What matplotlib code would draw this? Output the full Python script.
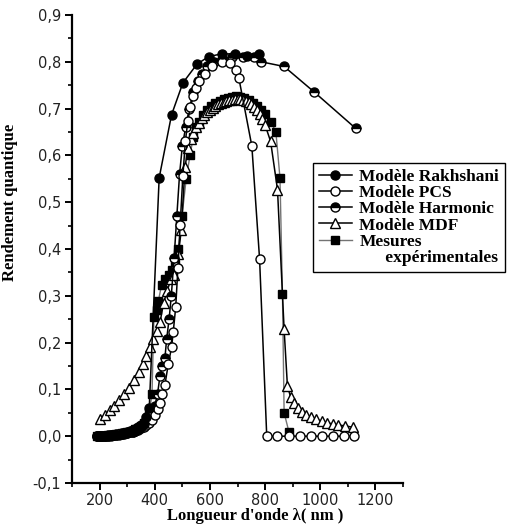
import matplotlib
matplotlib.use('Agg')
import matplotlib.pyplot as plt
from matplotlib.ticker import MultipleLocator, FuncFormatter
from matplotlib.lines import Line2D

# values
x_low = [190, 200, 210, 220, 230, 240, 250, 260, 270, 280,
         290, 300, 310, 320, 330, 340, 350, 360, 370, 380]

rak_x = x_low + [416, 461, 502, 553, 595, 642, 690, 735, 778]
rak_y = [0.0, 0.0, 0.0, 0.0, 0.001, 0.001, 0.002, 0.002, 0.003, 0.004,
         0.005, 0.006, 0.008, 0.010, 0.012, 0.015, 0.020, 0.027, 0.040, 0.060,
         0.552, 0.687, 0.755, 0.795, 0.811, 0.817, 0.817, 0.812, 0.817]

pcs_x = x_low + [390, 400, 410, 420, 427, 437, 449, 461, 467, 476, 484, 492,
                 502, 511, 520, 529, 540, 551, 562, 583, 607, 642, 674, 693,
                 705, 752, 780, 806, 845, 885, 925, 965, 1005, 1045, 1085, 1124]
pcs_y = [0.0, 0.0, 0.0, 0.001, 0.001, 0.002, 0.002, 0.003, 0.004, 0.005,
         0.006, 0.007, 0.008, 0.010, 0.012, 0.014, 0.017, 0.020, 0.024, 0.029,
         0.035, 0.045, 0.058, 0.072, 0.090, 0.110, 0.154, 0.190, 0.223, 0.276, 0.360, 0.451,
         0.557, 0.630, 0.674, 0.704, 0.726, 0.745, 0.760, 0.775, 0.790, 0.800, 0.797, 0.783,
         0.765, 0.620, 0.379, 0.0, 0.0, 0.0, 0.0, 0.0, 0.0, 0.0, 0.0, 0.0]

har_x = x_low + [390, 400, 410, 419, 428, 437, 443, 452, 460, 470, 480, 490,
                 500, 512, 525, 540, 555, 570, 590, 615, 645, 680, 720, 760,
                 786, 869, 979, 1128]
har_y = [0.0, 0.0, 0.001, 0.001, 0.002, 0.002, 0.003, 0.004, 0.005, 0.006,
         0.007, 0.009, 0.011, 0.013, 0.016, 0.019, 0.023, 0.028, 0.034, 0.042,
         0.052, 0.065, 0.090, 0.129, 0.150, 0.168, 0.207, 0.250, 0.300, 0.380, 0.470, 0.560,
         0.620, 0.660, 0.700, 0.735, 0.760, 0.775, 0.790, 0.800, 0.806, 0.810, 0.811, 0.810,
         0.800, 0.790, 0.735, 0.658]

mdf_x = [200, 218, 236, 254, 272, 290, 308, 326, 342, 356, 370, 383, 395, 407,
         419, 432, 445, 458, 470, 478, 486, 496, 510, 520,
         530, 540, 550, 560, 570, 580, 590, 600, 610, 620, 630, 640, 650, 660,
         670, 680, 690, 700, 710, 720, 730, 740, 750, 760, 770, 780, 790, 800,
         820, 845, 869, 881, 893, 905, 920, 935, 950, 965, 985, 1005, 1025,
         1045, 1065, 1090, 1120]
mdf_y = [0.037, 0.045, 0.055, 0.065, 0.077, 0.090, 0.104, 0.120, 0.137, 0.155,
         0.172, 0.190, 0.207, 0.225, 0.243, 0.285, 0.310, 0.335, 0.345, 0.370,
         0.390, 0.440, 0.576, 0.615,
         0.635, 0.648, 0.660, 0.670, 0.679, 0.686, 0.692, 0.697, 0.702, 0.706,
         0.709, 0.712, 0.714, 0.716, 0.718, 0.719, 0.720, 0.720, 0.720, 0.719,
         0.717, 0.714, 0.710, 0.704, 0.697, 0.688, 0.678, 0.665,
         0.630, 0.527, 0.228, 0.107, 0.083, 0.070, 0.060, 0.052, 0.046, 0.041,
         0.036, 0.032, 0.029, 0.026, 0.024, 0.022, 0.019]

mes_x = [190, 200, 210, 220, 230, 240, 250, 260, 270, 280, 290, 300, 310,
         320, 330, 340, 350, 360, 370, 380, 390, 397, 407, 413, 425, 437, 450,
         462, 474, 486, 499, 514, 528, 540, 550, 560, 575, 590, 605, 620, 635,
         650, 665, 680, 695, 710, 725, 740, 755, 770, 785, 800, 820, 839, 854,
         863, 869, 887]
mes_y = [0.0, 0.0, 0.001, 0.001, 0.002, 0.002, 0.003, 0.004, 0.005, 0.006,
         0.007, 0.008, 0.010, 0.012, 0.015, 0.018, 0.022, 0.028, 0.036, 0.050,
         0.090, 0.254, 0.270, 0.289, 0.324, 0.335, 0.345, 0.355, 0.367, 0.400,
         0.471, 0.550, 0.601, 0.640, 0.660, 0.672, 0.686, 0.697, 0.705, 0.711,
         0.716, 0.720, 0.723, 0.725, 0.726, 0.725, 0.722, 0.718, 0.712, 0.705,
         0.697, 0.688, 0.672, 0.651, 0.552, 0.303, 0.050, 0.008]

labels = ['Modèle Rakhshani', 'Modèle PCS', 'Modèle Harmonic', 'Modèle MDF',
          'Mesures']

fig = plt.figure(figsize=(5.18, 5.27), dpi=100)
ax = fig.add_axes([0.139, 0.0835, 0.639, 0.888])

ms = 6.5
ax.plot(mes_x, mes_y, color='0.45', lw=1.0, marker='s', ms=6, mfc='black',
        mec='black', label=labels[4], zorder=2)
ax.plot(mdf_x, mdf_y, color='black', lw=1.1, marker='^', ms=ms, mfc='white',
        mec='black', mew=1.0, label=labels[3], zorder=3)
ax.plot(har_x, har_y, color='black', lw=1.1, marker='o', ms=ms, fillstyle='top',
        mfc='black', mfcalt='white', mec='black', mew=1.0, label=labels[2], zorder=4)
ax.plot(pcs_x, pcs_y, color='black', lw=1.1, marker='o', ms=ms, mfc='white',
        mec='black', mew=1.0, label=labels[1], zorder=5)
ax.plot(rak_x, rak_y, color='black', lw=1.1, marker='o', ms=ms, mfc='black',
        mec='black', label=labels[0], zorder=6)

ax.set_xlim(100, 1300)
ax.set_ylim(-0.1, 0.9)
ax.xaxis.set_major_locator(MultipleLocator(200))
ax.xaxis.set_minor_locator(MultipleLocator(100))
ax.yaxis.set_major_locator(MultipleLocator(0.1))
ax.yaxis.set_minor_locator(MultipleLocator(0.05))
ax.xaxis.set_major_formatter(FuncFormatter(lambda v, p: '%d' % v if 150 < v < 1250 else ''))
ax.yaxis.set_major_formatter(FuncFormatter(lambda v, p: ('%.1f' % v).replace('.', ',')))

for s in ['top', 'right']:
    ax.spines[s].set_visible(False)
for s in ['left', 'bottom']:
    ax.spines[s].set_linewidth(1.6)
ax.tick_params(which='major', direction='out', length=5, width=1.4,
               labelsize=10.5, labelcolor='#222222', pad=3)
ax.tick_params(axis='x', which='major', pad=2)
ax.tick_params(which='minor', direction='out', length=3, width=1.2)
for t in ax.get_xticklabels() + ax.get_yticklabels():
    t.set_family('DejaVu Sans')

ax.set_xlabel("Longueur d'onde λ( nm )", family='Liberation Serif',
              fontweight='bold', fontsize=12)
ax.xaxis.set_label_coords(0.553, -0.054)
ax.set_ylabel('Rendement quantique', family='Liberation Serif',
              fontweight='bold', fontsize=12)
ax.yaxis.set_label_coords(-0.163, 0.6)

h, l = ax.get_legend_handles_labels()
order = [4, 3, 2, 1, 0]
handles = [h[i] for i in order] + [Line2D([], [], linestyle='none')]
leg_labels = [l[i] for i in order] + ['      expérimentales']
leg = fig.legend(handles, leg_labels, loc='upper left',
                 bbox_to_anchor=(0.604, 0.691), frameon=True, fancybox=False,
                 edgecolor='black', framealpha=1, handlelength=1.9,
                 handletextpad=0.43, labelspacing=0.0, borderpad=0.35,
                 borderaxespad=0,
                 prop={'family': 'Liberation Serif', 'weight': 'bold', 'size': 12.5})
leg.get_frame().set_linewidth(1.0)

fig.savefig('out.png', dpi=100)
